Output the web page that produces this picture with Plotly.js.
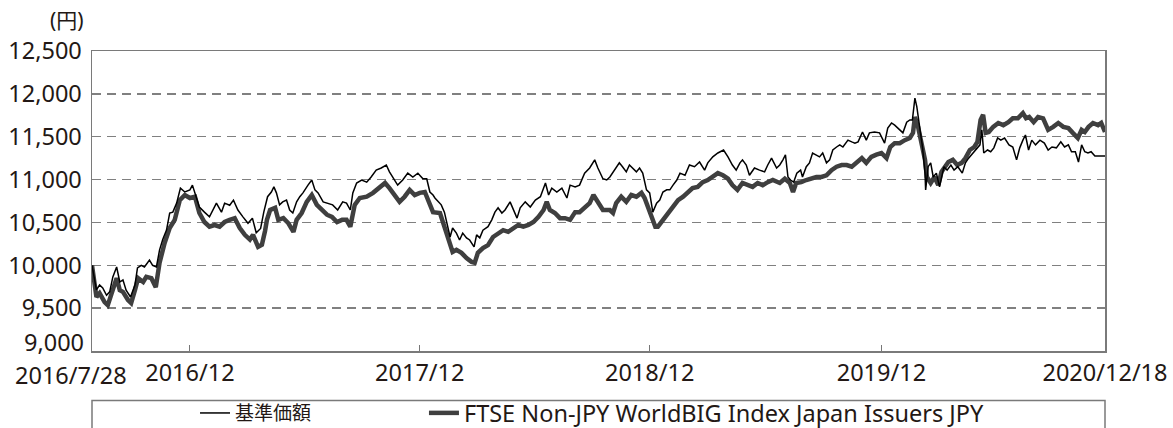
<!DOCTYPE html>
<html>
<head>
<meta charset="utf-8">
<script src="https://cdn.plot.ly/plotly-3.0.1.min.js"></script>
<style>html,body{margin:0;padding:0;background:#fff;}#chart{width:1173px;height:428px;}</style>
</head>
<body>
<div id="chart"></div>
<script>
const fundName = "基準価額";
const indexName = "FTSE Non-JPY WorldBIG Index Japan Issuers JPY";

const fundDates = [
'2016-07-28','2016-08-04','2016-08-09','2016-08-14','2016-08-20','2016-08-25','2016-08-30','2016-09-05','2016-09-10','2016-09-15','2016-09-20','2016-09-27','2016-10-04','2016-10-08','2016-10-14','2016-10-19','2016-10-27','2016-11-01','2016-11-07','2016-11-12','2016-11-17','2016-11-23','2016-11-28','2016-12-03','2016-12-09','2016-12-15','2016-12-22','2016-12-30',
'2017-01-03','2017-01-09','2017-01-14','2017-01-22','2017-01-30','2017-02-10','2017-02-18','2017-02-23','2017-03-03','2017-03-09','2017-03-16','2017-03-24','2017-04-01','2017-04-08','2017-04-14','2017-04-21','2017-04-26','2017-05-02','2017-05-08','2017-05-12','2017-05-16','2017-05-21','2017-05-26','2017-06-01','2017-06-06','2017-06-11','2017-06-17','2017-06-22','2017-06-27','2017-07-05','2017-07-11','2017-07-16','2017-07-21','2017-07-29','2017-08-06','2017-08-13','2017-08-21','2017-08-29','2017-09-04','2017-09-10','2017-09-14','2017-09-20','2017-09-28','2017-10-06','2017-10-13','2017-10-21','2017-10-29','2017-11-06','2017-11-11','2017-11-16','2017-11-24','2017-12-02','2017-12-10','2017-12-18','2017-12-26',
'2018-01-03','2018-01-09','2018-01-14','2018-01-19','2018-01-22','2018-01-27','2018-02-01','2018-02-06','2018-02-11','2018-02-15','2018-02-19','2018-02-25','2018-03-02','2018-03-07','2018-03-13','2018-03-18','2018-03-25','2018-03-29','2018-04-03','2018-04-08','2018-04-16','2018-04-22','2018-04-27','2018-05-02','2018-05-08','2018-05-13','2018-05-21','2018-05-26','2018-06-01','2018-06-06','2018-06-14','2018-06-22','2018-06-30','2018-07-08','2018-07-16','2018-07-21','2018-07-26','2018-08-03','2018-08-11','2018-08-19','2018-08-24','2018-09-01','2018-09-08','2018-09-16','2018-09-24','2018-10-02','2018-10-07','2018-10-15','2018-10-21','2018-10-26','2018-10-31','2018-11-05','2018-11-10','2018-11-15','2018-11-21','2018-11-26','2018-12-01','2018-12-07','2018-12-12','2018-12-17','2018-12-23','2018-12-28',
'2019-01-02','2019-01-08','2019-01-13','2019-01-18','2019-01-24','2019-01-29','2019-02-03','2019-02-09','2019-02-14','2019-02-22','2019-03-01','2019-03-09','2019-03-17','2019-03-25','2019-03-30','2019-04-07','2019-04-15','2019-04-24','2019-05-01','2019-05-08','2019-05-14','2019-05-20','2019-05-24','2019-05-30','2019-06-04','2019-06-12','2019-06-20','2019-06-28','2019-07-03','2019-07-09','2019-07-17','2019-07-22','2019-07-27','2019-07-31','2019-08-04','2019-08-08','2019-08-13','2019-08-18','2019-08-24','2019-08-27','2019-09-02','2019-09-07','2019-09-12','2019-09-18','2019-09-23','2019-09-28','2019-10-04','2019-10-09','2019-10-14','2019-10-20','2019-10-25','2019-10-30','2019-11-07','2019-11-13','2019-11-18','2019-11-23','2019-11-30','2019-12-06','2019-12-11','2019-12-19','2019-12-27',
'2020-01-04','2020-01-09','2020-01-15','2020-01-20','2020-01-28','2020-02-02','2020-02-08','2020-02-13','2020-02-17','2020-02-21','2020-02-24','2020-02-29','2020-03-04','2020-03-08','2020-03-09','2020-03-13','2020-03-17','2020-03-21','2020-03-26','2020-03-31','2020-04-07','2020-04-12','2020-04-18','2020-04-23','2020-04-29','2020-05-06','2020-05-11','2020-05-16','2020-05-23','2020-05-28','2020-06-03','2020-06-06','2020-06-09','2020-06-15','2020-06-20','2020-06-25','2020-07-01','2020-07-06','2020-07-12','2020-07-19','2020-07-25','2020-07-31','2020-08-05','2020-08-10','2020-08-14','2020-08-19','2020-08-24','2020-08-30','2020-09-06','2020-09-13','2020-09-19','2020-09-25','2020-10-02','2020-10-09','2020-10-15','2020-10-21','2020-10-26','2020-11-01','2020-11-06','2020-11-11','2020-11-16','2020-11-21','2020-11-26','2020-12-02','2020-12-18'
];
const fundValues = [
10000,9712,9770,9735,9650,9690,9865,9980,9805,9830,9710,9630,9770,9970,10000,9980,10060,10000,9980,10180,10300,10410,10610,10620,10725,10900,10855,10880,
10935,10800,10680,10620,10565,10725,10620,10725,10700,10760,10645,10565,10490,10550,10380,10430,10620,10800,10855,10915,10845,10705,10740,10760,10645,10610,10740,10800,10845,10935,10995,10880,10845,10740,10725,10705,10645,10740,10725,10645,10845,10960,10995,10970,11030,11110,11135,11170,11090,11030,10935,10995,11075,11030,11075,
11010,11010,10855,10820,10785,10740,10705,10620,10470,10330,10435,10375,10295,10375,10320,10295,10215,10355,10320,10410,10450,10530,10620,10670,10610,10645,10740,10645,10550,10670,10740,10680,10760,10800,10960,10820,10900,10855,10900,10785,10935,10915,10935,11075,11135,11230,11135,11010,10995,11030,11090,11135,11195,11150,11090,11170,11135,11090,11135,11075,10880,10845,
10620,10725,10760,10855,10880,10880,10935,10995,11075,11050,11170,11150,11205,11110,11195,11265,11310,11345,11265,11170,11110,11195,11230,11170,11050,11135,11110,11090,11170,11250,11135,11170,11230,11290,11030,10995,10970,11075,11110,11030,11150,11195,11310,11290,11265,11310,11195,11230,11345,11380,11405,11380,11460,11440,11425,11440,11555,11460,11545,11555,11545,
11425,11600,11660,11635,11580,11545,11670,11695,11695,11950,11850,11615,11380,11075,10880,11150,11195,11030,11075,10915,11150,11110,11170,11110,11150,11075,11195,11250,11310,11345,11405,11580,11310,11345,11325,11370,11485,11460,11485,11405,11380,11230,11370,11460,11520,11345,11460,11405,11460,11425,11345,11380,11370,11440,11380,11405,11325,11325,11205,11405,11325,11310,11325,11275,11275
];

const indexDates = [
'2016-07-28','2016-08-04','2016-08-09','2016-08-17','2016-08-22','2016-08-30','2016-09-05','2016-09-10','2016-09-15','2016-09-23','2016-09-28','2016-10-04','2016-10-09','2016-10-17','2016-10-22','2016-10-30','2016-11-06','2016-11-12','2016-11-20','2016-11-28','2016-12-06','2016-12-14','2016-12-22','2016-12-30',
'2017-01-07','2017-01-14','2017-01-22','2017-01-30','2017-02-07','2017-02-15','2017-02-23','2017-03-03','2017-03-11','2017-03-19','2017-03-27','2017-04-04','2017-04-09','2017-04-17','2017-04-23','2017-04-28','2017-05-01','2017-05-06','2017-05-14','2017-05-19','2017-05-27','2017-06-04','2017-06-12','2017-06-17','2017-06-25','2017-07-03','2017-07-11','2017-07-19','2017-07-27','2017-08-04','2017-08-12','2017-08-20','2017-08-28','2017-09-04','2017-09-10','2017-09-17','2017-09-25','2017-10-06','2017-10-16','2017-10-27','2017-11-04','2017-11-11','2017-11-19','2017-11-27','2017-12-05','2017-12-13','2017-12-21','2017-12-29',
'2018-01-06','2018-01-14','2018-01-19','2018-01-30','2018-02-06','2018-02-14','2018-02-19','2018-02-25','2018-03-05','2018-03-13','2018-03-21','2018-03-26','2018-03-31','2018-04-08','2018-04-16','2018-04-24','2018-05-02','2018-05-10','2018-05-18','2018-05-26','2018-06-03','2018-06-11','2018-06-19','2018-06-27','2018-07-05','2018-07-13','2018-07-18','2018-07-23','2018-07-31','2018-08-08','2018-08-16','2018-08-24','2018-09-01','2018-09-08','2018-09-16','2018-09-24','2018-09-30','2018-10-07','2018-10-15','2018-10-26','2018-10-31','2018-11-05','2018-11-13','2018-11-21','2018-11-29','2018-12-07','2018-12-15','2018-12-20','2018-12-25','2018-12-31',
'2019-01-06','2019-01-10','2019-01-18','2019-01-26','2019-02-03','2019-02-11','2019-02-19','2019-02-26','2019-03-06','2019-03-14','2019-03-22','2019-03-30','2019-04-07','2019-04-15','2019-04-23','2019-05-01','2019-05-08','2019-05-16','2019-05-24','2019-06-01','2019-06-09','2019-06-17','2019-06-25','2019-07-03','2019-07-11','2019-07-22','2019-07-30','2019-08-07','2019-08-12','2019-08-17','2019-08-25','2019-09-02','2019-09-10','2019-09-18','2019-09-26','2019-10-04','2019-10-12','2019-10-20','2019-10-28','2019-11-05','2019-11-13','2019-11-21','2019-11-29','2019-12-06','2019-12-14','2019-12-22','2019-12-30',
'2020-01-07','2020-01-13','2020-01-20','2020-01-28','2020-02-05','2020-02-13','2020-02-18','2020-02-21','2020-02-26','2020-03-02','2020-03-08','2020-03-11','2020-03-17','2020-03-23','2020-03-29','2020-04-03','2020-04-08','2020-04-14','2020-04-21','2020-04-28','2020-05-05','2020-05-11','2020-05-18','2020-05-25','2020-05-30','2020-06-04','2020-06-08','2020-06-12','2020-06-17','2020-06-24','2020-07-02','2020-07-10','2020-07-18','2020-07-25','2020-08-02','2020-08-10','2020-08-15','2020-08-20','2020-08-27','2020-09-03','2020-09-11','2020-09-19','2020-09-27','2020-10-05','2020-10-13','2020-10-21','2020-10-28','2020-11-05','2020-11-11','2020-11-16','2020-11-22','2020-11-29','2020-12-07','2020-12-12','2020-12-18'
];
const indexValues = [
10000,9630,9675,9570,9535,9710,9850,9710,9690,9595,9560,9710,9850,9805,9865,9850,9745,10030,10260,10435,10530,10760,10820,10785,
10800,10610,10505,10450,10470,10450,10505,10530,10550,10435,10355,10300,10355,10215,10240,10400,10530,10645,10670,10530,10550,10490,10390,10530,10610,10740,10820,10705,10645,10590,10565,10505,10530,10530,10450,10705,10785,10800,10845,10915,10960,10900,10820,10740,10800,10880,10820,10845,
10855,10700,10620,10610,10450,10235,10155,10180,10145,10085,10040,10030,10145,10200,10235,10330,10375,10410,10390,10435,10470,10450,10470,10505,10565,10645,10740,10645,10610,10550,10550,10530,10620,10620,10670,10725,10820,10740,10645,10645,10610,10725,10800,10740,10820,10800,10845,10785,10680,10550,
10450,10450,10530,10610,10680,10760,10800,10855,10900,10915,10970,10995,11030,11075,11050,11010,10935,10880,10960,10935,10915,10960,10935,10970,10995,10960,11010,10960,10855,10960,10970,10995,11010,11030,11030,11050,11110,11150,11170,11170,11150,11205,11250,11195,11265,11290,11310,
11250,11380,11425,11425,11460,11485,11545,11730,11615,11425,11230,11030,10960,11030,10935,11090,11150,11205,11230,11170,11195,11250,11345,11380,11440,11695,11755,11545,11555,11615,11660,11635,11670,11715,11715,11775,11715,11730,11670,11730,11715,11580,11615,11660,11615,11600,11545,11485,11580,11555,11615,11660,11635,11660,11555
];

const yTickVals = [9500,10000,10500,11000,11500,12000,12500];
const yBottom = 9000;
const yBottomLabel = '9,000';
const xTickVals = ['2016-12-30','2017-12-29','2018-12-28','2019-12-30','2020-12-18'];
const xTickText = ['2016/12','2017/12','2018/12','2019/12','2020/12/18'];
const startLabel = '2016/7/28';
const startDate = '2016-07-28';
const endDate = '2020-12-18';
const unitLabel = '(円)';

const FONT = '"Noto Sans", "Noto Sans CJK JP", sans-serif';
const TXT = '#231815';
const AX = 23.5;

const traces = [
  {x: indexDates, y: indexValues, type: 'scatter', mode: 'lines', name: indexName,
   line: {color: '#3f3f3f', width: 4.5}, legend: 'legend2', hoverinfo: 'skip'},
  {x: fundDates, y: fundValues, type: 'scatter', mode: 'lines', name: fundName,
   line: {color: '#000000', width: 1.5}, legend: 'legend', hoverinfo: 'skip'}
];

const layout = {
  width: 1173, height: 428,
  margin: {l: 92, r: 68, t: 51, b: 77, autoexpand: false},
  paper_bgcolor: '#ffffff', plot_bgcolor: '#ffffff',
  font: {family: FONT, size: AX, color: TXT},
  showlegend: true,
  legend: {orientation: 'h', x: 0.1017, xanchor: 'left', y: -0.207, yanchor: 'middle',
           font: {family: FONT, size: 19, color: TXT}, bgcolor: 'rgba(0,0,0,0)', borderwidth: 0},
  legend2: {orientation: 'h', x: 0.3277, xanchor: 'left', y: -0.207, yanchor: 'middle',
           font: {family: FONT, size: 23.5, color: TXT}, bgcolor: 'rgba(0,0,0,0)', borderwidth: 0},
  xaxis: {type: 'date', range: [startDate, endDate], tickvals: xTickVals, ticktext: xTickText,
          ticks: 'inside', ticklen: 6, tickwidth: 1, tickcolor: '#777',
          showgrid: false, zeroline: false, showline: true, mirror: true,
          linecolor: '#7a7a7a', linewidth: 1.5, ticklabelstandoff: 0,
          tickfont: {family: FONT, size: AX, color: TXT}, fixedrange: true},
  yaxis: {range: [9000, 12500], tickvals: yTickVals, tickformat: ',d', ticks: '',
          showgrid: true, gridcolor: '#808080', gridwidth: 1.5, griddash: '9px,6px',
          zeroline: false, showline: true, mirror: true, linecolor: '#7a7a7a', linewidth: 1.5,
          ticklabelstandoff: 4, tickfont: {family: FONT, size: AX, color: TXT}, fixedrange: true},
  shapes: [
    {type: 'rect', xref: 'paper', yref: 'paper', x0: 0, x1: 1, y0: -0.165, y1: -0.3,
     line: {color: '#7a7a7a', width: 1.5}, fillcolor: 'rgba(0,0,0,0)'}
  ],
  annotations: [
    {xref: 'paper', yref: 'paper', x: 0, y: 1, xanchor: 'right', yanchor: 'middle',
     xshift: -6, yshift: 31, text: unitLabel, showarrow: false,
     font: {family: FONT, size: 21, color: TXT}},
    {xref: 'paper', yref: 'y', x: 0, y: yBottom, xanchor: 'right', yanchor: 'middle',
     xshift: -7, yshift: 9, text: yBottomLabel, showarrow: false, borderpad: 0,
     font: {family: FONT, size: AX, color: TXT}},
    {xref: 'x', yref: 'paper', x: startDate, y: 0, xanchor: 'right', yanchor: 'middle',
     xshift: 36, yshift: -24, text: startLabel, showarrow: false, borderpad: 0,
     font: {family: FONT, size: AX, color: TXT}}
  ]
};

Plotly.newPlot('chart', traces, layout, {staticPlot: true, displayModeBar: false});
</script>
</body>
</html>
